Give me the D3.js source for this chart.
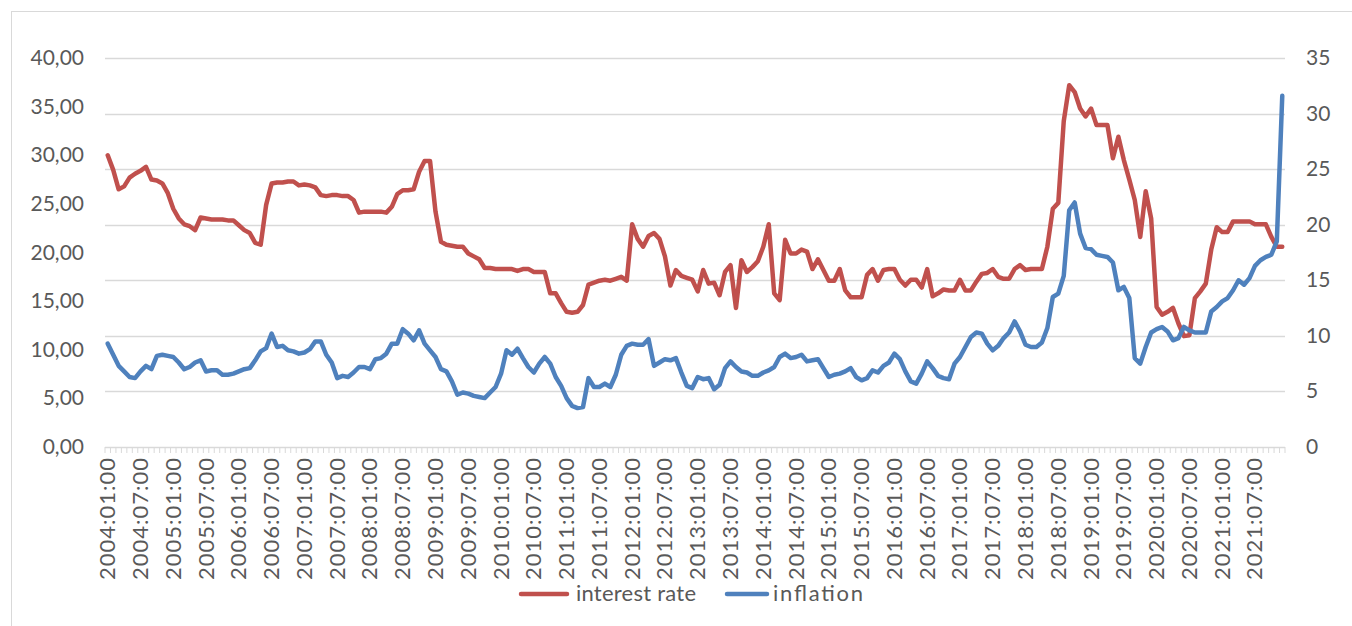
<!DOCTYPE html>
<html>
<head>
<meta charset="utf-8">
<script src="https://cdn.jsdelivr.net/npm/d3@7"></script>
<style>
  html, body { margin: 0; padding: 0; background: #fff; }
  svg { display: block; font-family: Lato, "Open Sans", sans-serif; }
</style>
</head>
<body>
<svg id="chart" width="1352" height="626"></svg>
<script>
// Monthly observations, 2004:01 through 2021:12
const startYear = 2004, endYear = 2021;
const months = [];
for (let y = startYear; y <= endYear; y++) {
  for (let m = 1; m <= 12; m++) months.push(y + ":" + String(m).padStart(2, "0") + ":00");
}

// Interest rate (left axis)
const interestRate = [
  30.0, 28.5, 26.5, 26.8, 27.7, 28.1, 28.4, 28.8, 27.5, 27.4, 27.1, 26.1,
  24.5, 23.5, 22.9, 22.7, 22.3, 23.6, 23.5, 23.4, 23.4, 23.4, 23.3, 23.3,
  22.8, 22.3, 22.0, 21.0, 20.8, 24.9, 27.1, 27.2, 27.2, 27.3, 27.3, 26.9,
  27.0, 26.9, 26.7, 25.9, 25.8, 25.9, 25.9, 25.8, 25.8, 25.4, 24.1, 24.2,
  24.2, 24.2, 24.2, 24.1, 24.7, 26.0, 26.4, 26.4, 26.5, 28.3, 29.4, 29.4,
  24.2, 21.1, 20.8, 20.7, 20.6, 20.6, 19.9, 19.6, 19.3, 18.4, 18.4, 18.3,
  18.3, 18.3, 18.3, 18.1, 18.3, 18.3, 18.0, 18.0, 18.0, 15.8, 15.8, 14.8,
  13.9, 13.8, 13.9, 14.6, 16.7, 16.9, 17.1, 17.2, 17.1, 17.3, 17.5, 17.1,
  22.9, 21.4, 20.6, 21.7, 22.0, 21.4, 19.6, 16.6, 18.2, 17.6, 17.4, 17.2,
  16.0, 18.2, 16.8, 16.9, 15.6, 18.0, 18.7, 14.3, 19.2, 18.0, 18.5, 19.1,
  20.6, 22.9, 15.8, 15.1, 21.3, 19.9, 19.9, 20.3, 20.1, 18.3, 19.3, 18.2,
  17.1, 17.1, 18.3, 16.1, 15.4, 15.4, 15.4, 17.7, 18.3, 17.1, 18.2, 18.3,
  18.3, 17.2, 16.6, 17.2, 17.2, 16.4, 18.3, 15.5, 15.8, 16.2, 16.1, 16.1,
  17.2, 16.1, 16.1, 17.0, 17.8, 17.9, 18.3, 17.5, 17.3, 17.3, 18.3, 18.7,
  18.2, 18.3, 18.3, 18.3, 20.6, 24.5, 25.1, 33.5, 37.2, 36.5, 34.8, 34.0,
  34.8, 33.1, 33.1, 33.1, 29.7, 31.9, 29.5, 27.5, 25.4, 21.6, 26.3, 23.5,
  14.4, 13.6, 13.9, 14.3, 12.7, 11.4, 11.5, 15.3, 16.0, 16.8, 20.3, 22.6,
  22.1, 22.1, 23.2, 23.2, 23.2, 23.2, 22.9, 22.9, 22.9, 21.6, 20.6, 20.6
];

// Inflation (right axis)
const inflation = [
  9.3, 8.3, 7.3, 6.8, 6.3, 6.2, 6.8, 7.3, 7.0, 8.2, 8.3, 8.2,
  8.1, 7.6, 7.0, 7.2, 7.6, 7.8, 6.8, 6.9, 6.9, 6.5, 6.5, 6.6,
  6.8, 7.0, 7.1, 7.8, 8.6, 8.9, 10.2, 9.0, 9.1, 8.7, 8.6, 8.4,
  8.5, 8.8, 9.5, 9.5, 8.3, 7.6, 6.2, 6.4, 6.3, 6.7, 7.2, 7.2,
  7.0, 7.9, 8.0, 8.4, 9.3, 9.3, 10.6, 10.2, 9.6, 10.5, 9.3, 8.7,
  8.1, 7.0, 6.8, 5.9, 4.7, 4.9, 4.8, 4.6, 4.5, 4.4, 4.9, 5.4,
  6.6, 8.7, 8.3, 8.85, 8.0, 7.2, 6.7, 7.5, 8.1, 7.5, 6.3, 5.5,
  4.4, 3.7, 3.5, 3.6, 6.2, 5.4, 5.4, 5.7, 5.4, 6.5, 8.3, 9.1,
  9.3, 9.2, 9.2, 9.7, 7.3, 7.6, 7.9, 7.8, 8.0, 6.7, 5.5, 5.3,
  6.3, 6.1, 6.2, 5.2, 5.6, 7.1, 7.7, 7.2, 6.8, 6.7, 6.4, 6.4,
  6.7, 6.9, 7.2, 8.1, 8.4, 8.0, 8.1, 8.3, 7.7, 7.8, 7.9, 7.1,
  6.3, 6.5, 6.6, 6.8, 7.1, 6.3, 6.0, 6.2, 6.9, 6.7, 7.3, 7.6,
  8.4, 7.9, 6.8, 5.9, 5.7, 6.6, 7.7, 7.1, 6.4, 6.2, 6.1, 7.5,
  8.1, 9.0, 9.9, 10.3, 10.2, 9.3, 8.7, 9.1, 9.8, 10.3, 11.3, 10.4,
  9.2, 9.0, 9.0, 9.4, 10.7, 13.5, 13.8, 15.4, 21.3, 22.0, 19.2, 17.9,
  17.8, 17.3, 17.2, 17.1, 16.6, 14.1, 14.4, 13.4, 8.0, 7.5, 9.0, 10.3,
  10.6, 10.8, 10.4, 9.6, 9.8, 10.8, 10.5, 10.3, 10.3, 10.3, 12.2, 12.6,
  13.1, 13.4, 14.1, 15.0, 14.6, 15.2, 16.3, 16.8, 17.1, 17.3, 18.5, 31.6
];

const leftTicks = [0, 5, 10, 15, 20, 25, 30, 35, 40];
const rightTicks = [0, 5, 10, 15, 20, 25, 30, 35];
const seriesNames = ["interest rate", "inflation"];
const seriesColors = ["#C0504D", "#4F81BD"];

const svg = d3.select("#chart");
const W = 1352, H = 626;
const plot = { left: 105, right: 1285, top: 58, bottom: 447 };
const gridColor = "#d9d9d9";
const textColor = "#595959";

// outer chart frame
svg.append("rect")
  .attr("x", 11.5).attr("y", 11.5)
  .attr("width", W).attr("height", H)
  .attr("fill", "none").attr("stroke", gridColor).attr("stroke-width", 1);

const x = d3.scaleBand().domain(months).range([plot.left, plot.right]).paddingInner(0).paddingOuter(0);
const xc = d => x(d) + x.bandwidth() / 2;
const yL = d3.scaleLinear().domain([0, 40]).range([plot.bottom, plot.top]);
const yR = d3.scaleLinear().domain([0, 35]).range([plot.bottom, plot.top]);

// horizontal gridlines follow the right-hand axis
svg.append("g").selectAll("line").data(rightTicks.filter(t => t > 0)).join("line")
  .attr("x1", plot.left).attr("x2", plot.right)
  .attr("y1", d => Math.round(yR(d)) + 0.5).attr("y2", d => Math.round(yR(d)) + 0.5)
  .attr("stroke", gridColor).attr("stroke-width", 1.5);

// category axis with a tick at every month boundary
const xAxisG = svg.append("g").attr("transform", `translate(0,${plot.bottom})`);
xAxisG.append("line")
  .attr("x1", plot.left).attr("x2", plot.right).attr("y1", 0.5).attr("y2", 0.5)
  .attr("stroke", gridColor).attr("stroke-width", 1.5);
const boundaries = months.map(m => x(m)).concat([plot.right]);
xAxisG.append("g").selectAll("line").data(boundaries).join("line")
  .attr("x1", d => d).attr("x2", d => d).attr("y1", 0).attr("y2", 6)
  .attr("stroke", gridColor).attr("stroke-width", 1);

// rotated month labels every six months
xAxisG.append("g").selectAll("text").data(months.filter((m, i) => i % 6 === 0)).join("text")
  .attr("transform", d => `translate(${xc(d) + 7.5},11) rotate(-90)`)
  .attr("text-anchor", "end")
  .attr("font-size", 22).attr("fill", textColor)
  .attr("textLength", 122).attr("lengthAdjust", "spacing")
  .text(d => d);

// left axis labels (comma decimals)
const fmtLeft = d => d3.format(".2f")(d).replace(".", ",");
svg.append("g").selectAll("text").data(leftTicks).join("text")
  .attr("x", 84).attr("y", d => yL(d) + 7)
  .attr("text-anchor", "end").attr("font-size", 21).attr("fill", textColor)
  .text(fmtLeft);

// right axis labels
svg.append("g").selectAll("text").data(rightTicks).join("text")
  .attr("x", 1306).attr("y", d => yR(d) + 7)
  .attr("text-anchor", "start").attr("font-size", 21).attr("fill", textColor)
  .text(d => d);

// series lines
const lineL = d3.line().x((d, i) => xc(months[i])).y(d => yL(d));
const lineR = d3.line().x((d, i) => xc(months[i])).y(d => yR(d));
svg.append("path").datum(interestRate).attr("d", lineL)
  .attr("fill", "none").attr("stroke", seriesColors[0]).attr("stroke-width", 4.5)
  .attr("stroke-linejoin", "round").attr("stroke-linecap", "round");
svg.append("path").datum(inflation).attr("d", lineR)
  .attr("fill", "none").attr("stroke", seriesColors[1]).attr("stroke-width", 4.5)
  .attr("stroke-linejoin", "round").attr("stroke-linecap", "round");

// legend
const legend = [
  { name: seriesNames[0], color: seriesColors[0], x0: 521, x1: 567, tx: 576, len: 120 },
  { name: seriesNames[1], color: seriesColors[1], x0: 727, x1: 767, tx: 773, len: 90 }
];
const lg = svg.append("g");
legend.forEach(l => {
  lg.append("line").attr("x1", l.x0).attr("x2", l.x1).attr("y1", 594).attr("y2", 594)
    .attr("stroke", l.color).attr("stroke-width", 4.5).attr("stroke-linecap", "round");
  lg.append("text").attr("x", l.tx).attr("y", 601).attr("font-size", 22).attr("fill", textColor)
    .attr("textLength", l.len).attr("lengthAdjust", "spacing").text(l.name);
});
</script>
</body>
</html>
